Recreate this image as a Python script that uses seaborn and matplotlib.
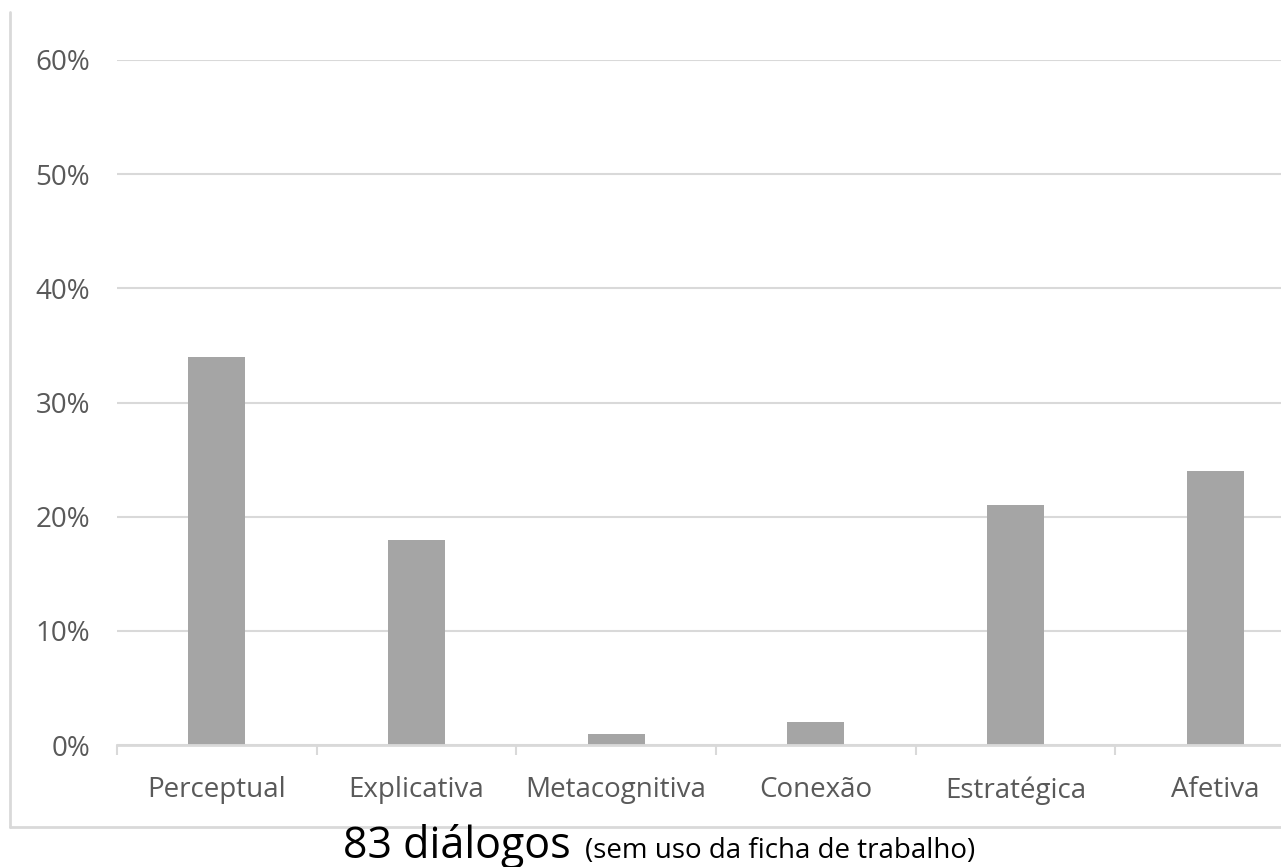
import matplotlib
matplotlib.use("Agg")
import matplotlib.pyplot as plt
import seaborn as sns
import pandas as pd
from matplotlib.lines import Line2D
from matplotlib.ticker import FuncFormatter, FixedLocator

categories = ["Perceptual", "Explicativa", "Metacognitiva", "Conexão", "Estratégica", "Afetiva"]
values = [0.34, 0.18, 0.01, 0.02, 0.21, 0.24]
yticks = [0.0, 0.1, 0.2, 0.3, 0.4, 0.5, 0.6]
title_main = "83 diálogos"
title_sub = "(sem uso da ficha de trabalho)"

sns.set_theme(style="white")
plt.rcParams['font.family'] = ['Open Sans', 'DejaVu Sans']

W, H = 1281, 867
fig = plt.figure(figsize=(W / 100, H / 100), dpi=100)
ax = fig.add_axes([117 / W, 1 - 745 / H, (1315 - 117) / W, (745 - 60) / H])

df = pd.DataFrame({"cat": categories, "val": values})
sns.barplot(data=df, x="cat", y="val", color="#a5a5a5", width=0.286, ax=ax,
            saturation=1, edgecolor="none")

ax.set_xlim(-0.5, len(categories) - 0.5)
ax.set_ylim(0, 0.6)
ax.set_yticks(yticks)
ax.yaxis.set_major_formatter(FuncFormatter(lambda v, p: f"{v*100:.0f}%"))
ax.grid(axis="y", color="#d9d9d9", linewidth=1.5)
ax.set_axisbelow(True)
for s in ["top", "right", "left"]:
    ax.spines[s].set_visible(False)
ax.spines["bottom"].set_color("#d9d9d9")
ax.spines["bottom"].set_linewidth(2)
ax.set_xlabel("")
ax.set_ylabel("")

ax.xaxis.set_minor_locator(FixedLocator([i - 0.5 for i in range(len(categories) + 1)]))
ax.tick_params(axis="x", which="minor", length=7, width=1.5, color="#d9d9d9", bottom=True)
ax.tick_params(axis="x", which="major", length=0, pad=22.5, labelsize=20, labelcolor="#595959")
ax.tick_params(axis="y", length=0, pad=19.5, labelsize=20, labelcolor="#595959")

# outer frame lines (left and bottom)
fig.add_artist(Line2D([10 / W, 10 / W], [1 - 12 / H, 1 - 827 / H], transform=fig.transFigure,
                      color="#d9d9d9", linewidth=2))
fig.add_artist(Line2D([10 / W, 1.0], [1 - 827 / H, 1 - 827 / H], transform=fig.transFigure,
                      color="#d9d9d9", linewidth=2))

t1 = fig.text(343 / W, 1 - 858 / H, title_main, fontsize=31, color="black",
              ha="left", va="baseline")
fig.canvas.draw()
r = fig.canvas.get_renderer()
bb = t1.get_window_extent(r)
fig.text((bb.x1 + 14) / W, 1 - 858 / H, title_sub, fontsize=20, color="black",
         ha="left", va="baseline")

fig.savefig("out.png", dpi=100)
